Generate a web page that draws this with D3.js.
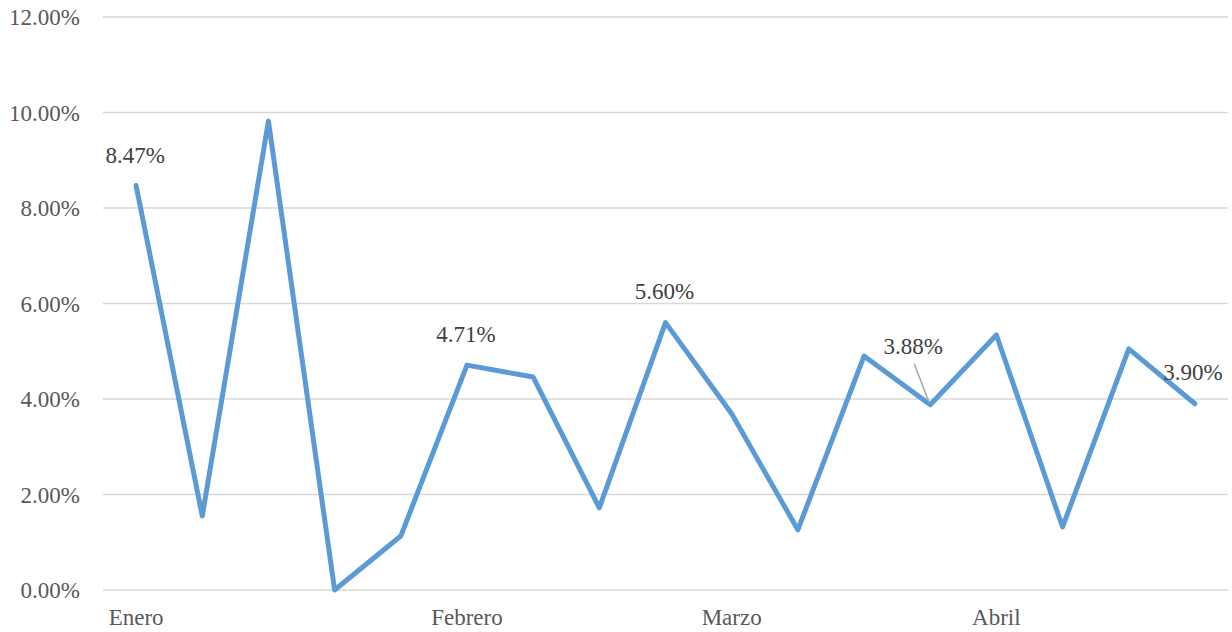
<!DOCTYPE html>
<html>
<head>
<meta charset="utf-8">
<script src="https://cdn.jsdelivr.net/npm/d3@7"></script>
<style>
  html, body { margin: 0; padding: 0; background: #fff; }
  svg { display: block; }
</style>
</head>
<body>
<svg id="chart" width="1232" height="632"></svg>
<script>
// Data
const categories = ["Enero","","","","","Febrero","","","","Marzo","","","","Abril","","",""];
const values = [8.47, 1.55, 9.82, 0.00, 1.13, 4.71, 4.46, 1.72, 5.60, 3.69, 1.26, 4.90, 3.88, 5.34, 1.32, 5.05, 3.90];
const yTicks = [0, 2, 4, 6, 8, 10, 12];
const labeledPoints = [0, 5, 8, 12, 16];

(function () {
const FONT = "'Liberation Serif'";
const FS = 23;
const svg = d3.select("#chart");
const plotLeft = 103, plotRight = 1228, plotTop = 17, plotBottom = 590;

const idx = d3.range(values.length);
const x = d3.scaleBand().domain(idx).range([plotLeft, plotRight]);
const y = d3.scaleLinear().domain([0, 12]).range([plotBottom, plotTop]);
const cx = i => x(i) + x.bandwidth() / 2;

// Gridlines
svg.append("g").selectAll("line").data(yTicks).join("line")
  .attr("x1", plotLeft).attr("x2", plotRight)
  .attr("y1", d => y(d)).attr("y2", d => y(d))
  .attr("stroke", "#d9d9d9").attr("stroke-width", 1.5);

// Y axis labels
svg.append("g").selectAll("text").data(yTicks).join("text")
  .attr("font-family", FONT)
  .attr("x", 80).attr("y", d => y(d) + 8)
  .attr("text-anchor", "end")
  .attr("font-size", FS).attr("fill", "#595959")
  .text(d => d.toFixed(2) + "%");

// X axis labels
svg.append("g").selectAll("text").data(idx.filter(i => categories[i] !== "")).join("text")
  .attr("font-family", FONT)
  .attr("x", i => cx(i)).attr("y", 625)
  .attr("text-anchor", "middle")
  .attr("font-size", FS).attr("fill", "#595959")
  .text(i => categories[i]);

// Line
const line = d3.line().x((d, i) => cx(i)).y(d => y(d));
svg.append("path").datum(values)
  .attr("d", line)
  .attr("fill", "none").attr("stroke", "#5b9bd5")
  .attr("stroke-width", 5)
  .attr("stroke-linejoin", "round").attr("stroke-linecap", "round");

// Data labels
const labelOffsets = {0: [-1, -23], 5: [-1, -23], 8: [-1, -24], 12: [-17, -51], 16: [-2, -24]};
svg.append("g").selectAll("text").data(labeledPoints).join("text")
  .attr("font-family", FONT)
  .attr("x", i => cx(i) + labelOffsets[i][0])
  .attr("y", i => y(values[i]) + labelOffsets[i][1])
  .attr("text-anchor", "middle")
  .attr("font-size", FS).attr("fill", "#404040")
  .text(i => values[i].toFixed(2) + "%");

// Leader line for 3.88%
svg.append("line")
  .attr("x1", cx(12) - 16).attr("y1", y(values[12]) - 41)
  .attr("x2", cx(12) - 1).attr("y2", y(values[12]) - 2)
  .attr("stroke", "#a6a6a6").attr("stroke-width", 1.5);
})();
</script>
</body>
</html>
